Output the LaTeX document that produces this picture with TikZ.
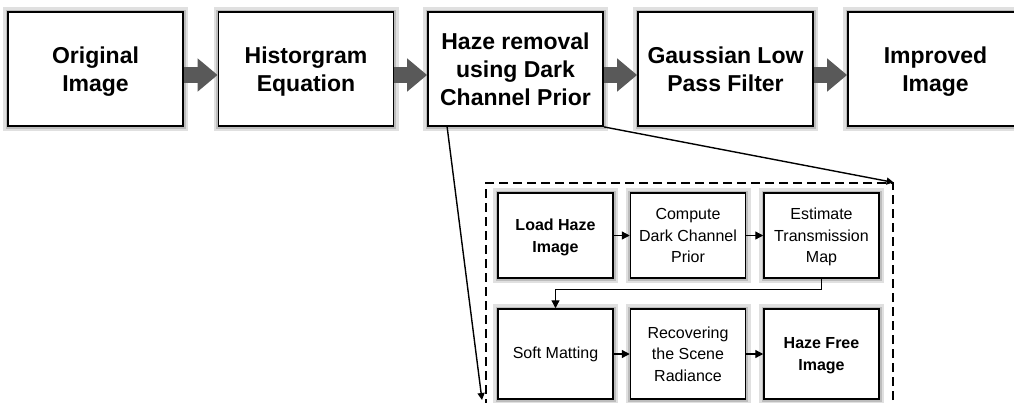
\documentclass[tikz,border=0pt]{standalone}
\usepackage{fontspec}
\setmainfont{Liberation Sans}
\usetikzlibrary{arrows.meta}

\begin{document}
\begin{tikzpicture}[x=1pt,y=-1pt,
  halo/.style={preaction={draw=black!12,line width=10pt},
               preaction={draw=black!26,line width=5pt}},
  stage/.style={draw,line width=1.8pt,fill=white,halo,
    minimum width=175pt,minimum height=114pt,inner sep=0pt,align=center,
    font=\fontsize{23}{28}\selectfont\bfseries},
  substep/.style={draw,line width=1.5pt,fill=white,halo,
    minimum width=115pt,inner sep=0pt,align=center,
    font=\fontsize{16}{21.5}\selectfont},
  boldstep/.style={substep,font=\fontsize{16}{21.5}\selectfont\bfseries},
  fatarrow/.style={draw=black!65,line width=16pt,
    -{Triangle[length=20pt 0 0,width=32pt 0 0]}},
  link/.style={line width=1.3pt,-{Triangle[length=8pt 0 0,width=8pt 0 0]}},
  flow/.style={line width=1.4pt,-{Triangle[length=7pt 0 0,width=7pt 0 0]}},
  frame/.style={draw,line width=1.2pt,dash pattern=on 9pt off 5pt,
    minimum width=407pt,minimum height=230pt,inner sep=0pt}]
\useasboundingbox (0,0) rectangle (1014,402);

% main pipeline (last lines smashed so descenders do not lift the text)
\node[stage] (orig) at (95.5,69)  {Original\\\smash{Image}};
\node[stage] (hist) at (306,69)   {Historgram\\\smash{Equation}};
\node[stage] (dcp)  at (515.5,69) {Haze removal\\using Dark\\\smash{Channel Prior}};
\node[stage] (glpf) at (725.5,69) {Gaussian Low\\\smash{Pass Filter}};
\node[stage] (impr) at (935.5,69) {Improved\\\smash{Image}};

\foreach \a/\b in {orig/hist,hist/dcp,dcp/glpf,glpf/impr}
  \draw[fatarrow] ([yshift=-6pt]\a.east) -- ([yshift=-6pt]\b.west);

% detail of the dark channel prior stage
\node[frame] (detail) at (689.5,298) {};

\node[boldstep,minimum height=85pt] (load) at (555.5,235.5) {Load Haze\\\smash{Image}};
\node[substep,minimum height=85pt] (dark) at (688,235.5) {Compute\\Dark Channel\\\smash{Prior}};
\node[substep,minimum height=85pt] (tmap) at (821.5,235.5) {Estimate\\Transmission\\\smash{Map}};
\node[substep,minimum height=90pt] (soft) at (555.5,354) {Soft Matting};
\node[substep,minimum height=90pt] (recv) at (688,354) {Recovering\\the Scene\\\smash{Radiance}};
\node[boldstep,minimum height=90pt] (free) at (821.5,354) {Haze Free\\\smash{Image}};

\draw[link] (load) -- (dark);
\draw[link] (dark) -- (tmap);
\draw[link] (tmap.south) -- ++(0,11) -| (soft.north);
\draw[link] (soft) -- (recv);
\draw[link] (recv) -- (free);

% zoom lines from the stage to its detail
\coordinate (dcpfoot) at (447,126);
\coordinate (down) at (482,400);
\draw[flow] (dcpfoot) -- (down);
\draw[flow] (dcp.south east) -- (detail.north east);
\end{tikzpicture}
\end{document}
